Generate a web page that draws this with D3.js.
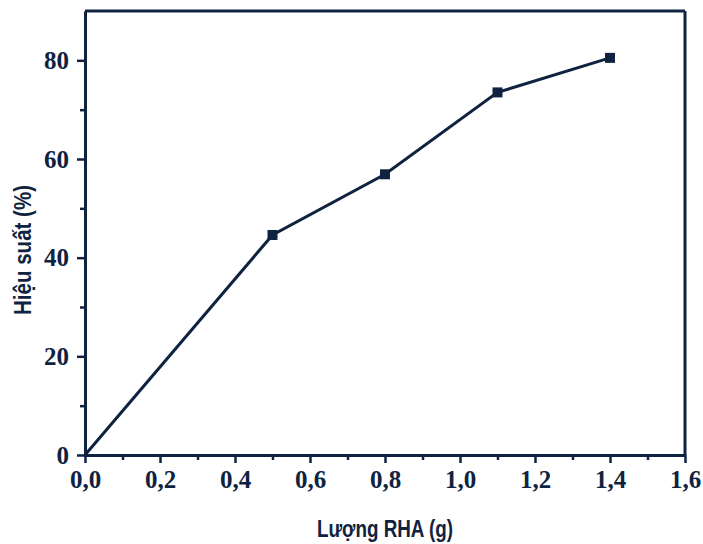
<!DOCTYPE html>
<html lang="vi">
<head>
<meta charset="UTF-8"/>
<title>Hiệu suất</title>
<script src="https://d3js.org/d3.v7.min.js"></script>
<style>
  body { margin: 0; background: #fff; }
</style>
</head>
<body>
<div id="chart"></div>
<script>
// data
var amountRHA = [0, 0.5, 0.8, 1.1, 1.4];
var yieldPct  = [0, 44.6, 56.9, 73.5, 80.5];
var xTicks = [0, 0.2, 0.4, 0.6, 0.8, 1.0, 1.2, 1.4, 1.6];
var yTicks = [0, 20, 40, 60, 80];

var ink = "#0f2340";
var margin = {top: 11, right: 18, bottom: 89, left: 85},
    width = 703 - margin.left - margin.right,
    height = 544 - margin.top - margin.bottom;

var svg = d3.select("#chart").append("svg")
    .attr("width", 703).attr("height", 544)
  .append("g")
    .attr("transform", "translate(" + margin.left + "," + margin.top + ")");

var x = d3.scaleLinear().domain([0, 1.6]).range([0, width]);
var y = d3.scaleLinear().domain([0, 90]).range([height, 0]);

var fmt = function(d) { return d3.format(".1f")(d).replace(".", ","); };

function styleTicks(g) {
  g.selectAll("line").attr("stroke", ink).attr("stroke-width", 2.5);
  g.selectAll("text")
    .style("font-family", "'Liberation Serif', 'Times New Roman', serif")
    .style("font-weight", "bold")
    .style("font-size", "25px")
    .style("fill", ink);
}

// minor ticks
svg.append("g")
  .attr("transform", "translate(0," + height + ")")
  .call(d3.axisBottom(x).tickValues(d3.range(0.1, 1.6, 0.2)).tickSize(5).tickFormat(""))
  .call(function(g) { g.select(".domain").remove(); styleTicks(g); });
svg.append("g")
  .call(d3.axisLeft(y).tickValues([10, 30, 50, 70]).tickSize(5).tickFormat(""))
  .call(function(g) { g.select(".domain").remove(); styleTicks(g); });

// major axes
svg.append("g")
  .attr("transform", "translate(0," + height + ")")
  .call(d3.axisBottom(x).tickValues(xTicks).tickSize(8).tickSizeOuter(0).tickPadding(7).tickFormat(fmt))
  .call(function(g) {
    g.select(".domain").attr("stroke", ink).attr("stroke-width", 3);
    styleTicks(g);
  });
svg.append("g")
  .call(d3.axisLeft(y).tickValues(yTicks).tickSize(8).tickSizeOuter(0).tickPadding(8))
  .call(function(g) {
    g.select(".domain").attr("stroke", ink).attr("stroke-width", 3);
    styleTicks(g);
  });

// top and right frame
svg.append("line").attr("x1", x(0)).attr("x2", x(1.6)).attr("y1", y(90)).attr("y2", y(90))
  .attr("stroke", ink).attr("stroke-width", 3);
svg.append("line").attr("x1", x(1.6)).attr("x2", x(1.6)).attr("y1", y(90)).attr("y2", y(0))
  .attr("stroke", ink).attr("stroke-width", 3);

// line
var pts = amountRHA.map(function(d, i) { return [d, yieldPct[i]]; });
svg.append("path")
  .datum(pts)
  .attr("fill", "none")
  .attr("stroke", ink)
  .attr("stroke-width", 3)
  .attr("d", d3.line().x(function(d) { return x(d[0]); }).y(function(d) { return y(d[1]); }));

// markers (no marker at origin)
svg.selectAll("rect.pt")
  .data(pts.slice(1))
  .enter().append("rect")
    .attr("class", "pt")
    .attr("x", function(d) { return x(d[0]) - 5; })
    .attr("y", function(d) { return y(d[1]) - 5; })
    .attr("width", 10).attr("height", 10)
    .attr("fill", ink);

// axis titles (condensed look)
function title(sel) {
  sel.style("font-family", "'Liberation Sans', Arial, sans-serif")
    .style("font-weight", "bold")
    .style("font-size", "24px")
    .style("fill", ink)
    .attr("lengthAdjust", "spacingAndGlyphs")
    .attr("text-anchor", "middle");
}
svg.append("text")
  .attr("x", 300).attr("y", height + 82)
  .attr("textLength", 136)
  .text("Lượng RHA (g)")
  .call(title);
svg.append("text")
  .attr("transform", "translate(" + (-54) + "," + 239 + ")rotate(-90)")
  .attr("textLength", 130)
  .text("Hiệu suất (%)")
  .call(title);
</script>
</body>
</html>
